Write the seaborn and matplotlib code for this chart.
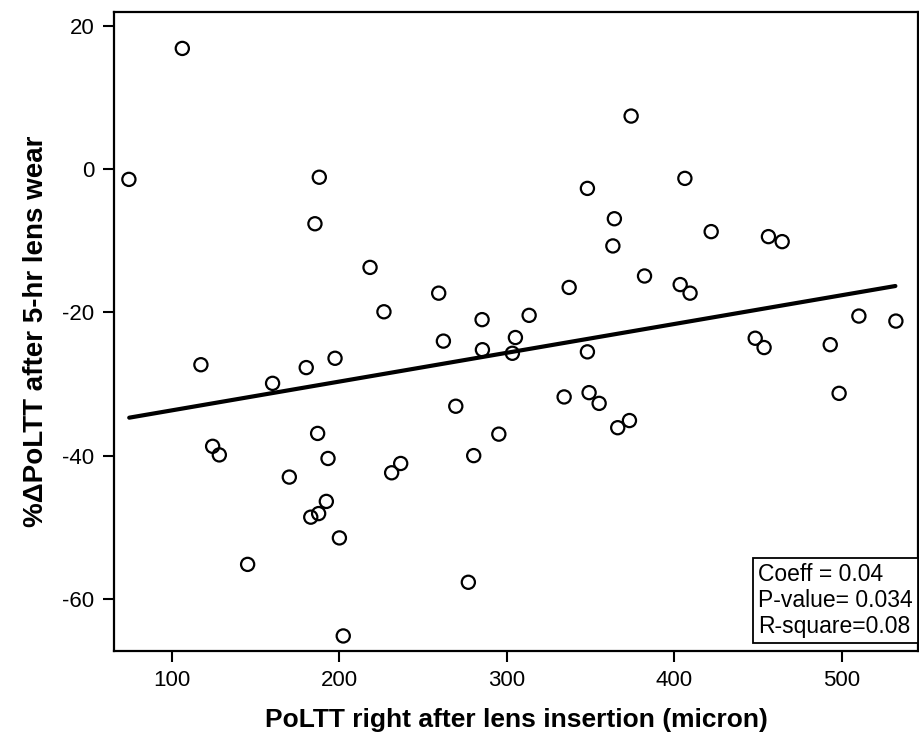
import matplotlib
matplotlib.use("Agg")
import matplotlib.pyplot as plt
import seaborn as sns
import pandas as pd

# Data
poltt_x = [106.2, 74.3, 188.0, 185.4, 218.3, 226.6,
           117.3, 160.1, 180.2, 197.4, 124.3, 128.3, 187.0, 193.2, 170.1, 192.2,
           182.9, 187.6, 200.0, 145.2, 202.3,
           374.2, 348.1, 364.2, 363.3, 382.2, 337.2, 259.3, 285.2, 313.3,
           406.3, 422.0, 456.2, 464.4, 403.5, 409.4, 510.2, 532.3,
           262.1, 285.4, 305.1, 303.3, 348.1, 269.5, 334.2, 349.1, 355.1, 366.2,
           373.2, 295.2, 280.2, 236.6, 231.2, 277.0,
           448.3, 453.6, 493.1, 498.4]
delta_y = [16.9, -1.4, -1.1, -7.6, -13.7, -19.9,
           -27.3, -29.9, -27.7, -26.4, -38.7, -39.9, -36.9, -40.4, -43.0, -46.4,
           -48.6, -48.1, -51.5, -55.2, -65.2,
           7.45, -2.66, -6.9, -10.7, -14.9, -16.5, -17.3, -21.0, -20.4,
           -1.26, -8.7, -9.4, -10.1, -16.1, -17.3, -20.5, -21.2,
           -24.0, -25.2, -23.5, -25.7, -25.5, -33.1, -31.8, -31.2, -32.7, -36.1,
           -35.1, -37.0, -40.0, -41.1, -42.4, -57.7,
           -23.6, -24.9, -24.5, -31.3]

fit_x = [74.5, 532.0]
fit_y = [-34.7, -16.3]

x_ticks = [100, 200, 300, 400, 500]
y_ticks = [20, 0, -20, -40, -60]

stats_lines = ["Coeff = 0.04", "P-value= 0.034", "R-square=0.08"]

df = pd.DataFrame({"x": poltt_x, "y": delta_y})
fit_df = pd.DataFrame({"x": fit_x, "y": fit_y})

sns.set_theme(style="white")
plt.rcParams["font.family"] = ["Liberation Sans", "DejaVu Sans"]
plt.rcParams["axes.unicode_minus"] = False
plt.rcParams["text.color"] = "black"
plt.rcParams["axes.labelcolor"] = "black"

fig = plt.figure(figsize=(9.2, 7.4), dpi=100)
ax = fig.add_axes([0.1239, 0.1203, 0.8741, 0.8631])

sns.lineplot(data=fit_df, x="x", y="y", ax=ax, color="black", linewidth=3.0)
sns.scatterplot(data=df, x="x", y="y", ax=ax, marker="o", s=90,
                facecolor="none", edgecolor="black", linewidth=1.6, zorder=3)

ax.set_xlim(65.4, 545.6)
ax.set_ylim(-67.3, 21.95)
ax.set_xticks(x_ticks)
ax.set_yticks(y_ticks)
ax.tick_params(axis="both", direction="out", length=8, width=1.5,
               labelsize=16, color="black", labelcolor="black", pad=6,
               bottom=True, left=True)
for sp in ax.spines.values():
    sp.set_visible(True)
    sp.set_color("black")
    sp.set_linewidth(1.6)

ax.set_xlabel("PoLTT right after lens insertion (micron)", fontsize=19,
              fontweight="bold", labelpad=12)
ax.set_ylabel("%ΔPoLTT after 5-hr lens wear", fontsize=20,
              fontweight="bold", labelpad=10)

ax.text(0.801, 0.021, "\n".join(stats_lines), transform=ax.transAxes,
        ha="left", va="bottom", fontsize=16.5, linespacing=1.15,
        multialignment="left",
        bbox=dict(boxstyle="square,pad=0.22", facecolor="white",
                  edgecolor="black", linewidth=1.3), zorder=5)

fig.savefig("out.png", dpi=100)
